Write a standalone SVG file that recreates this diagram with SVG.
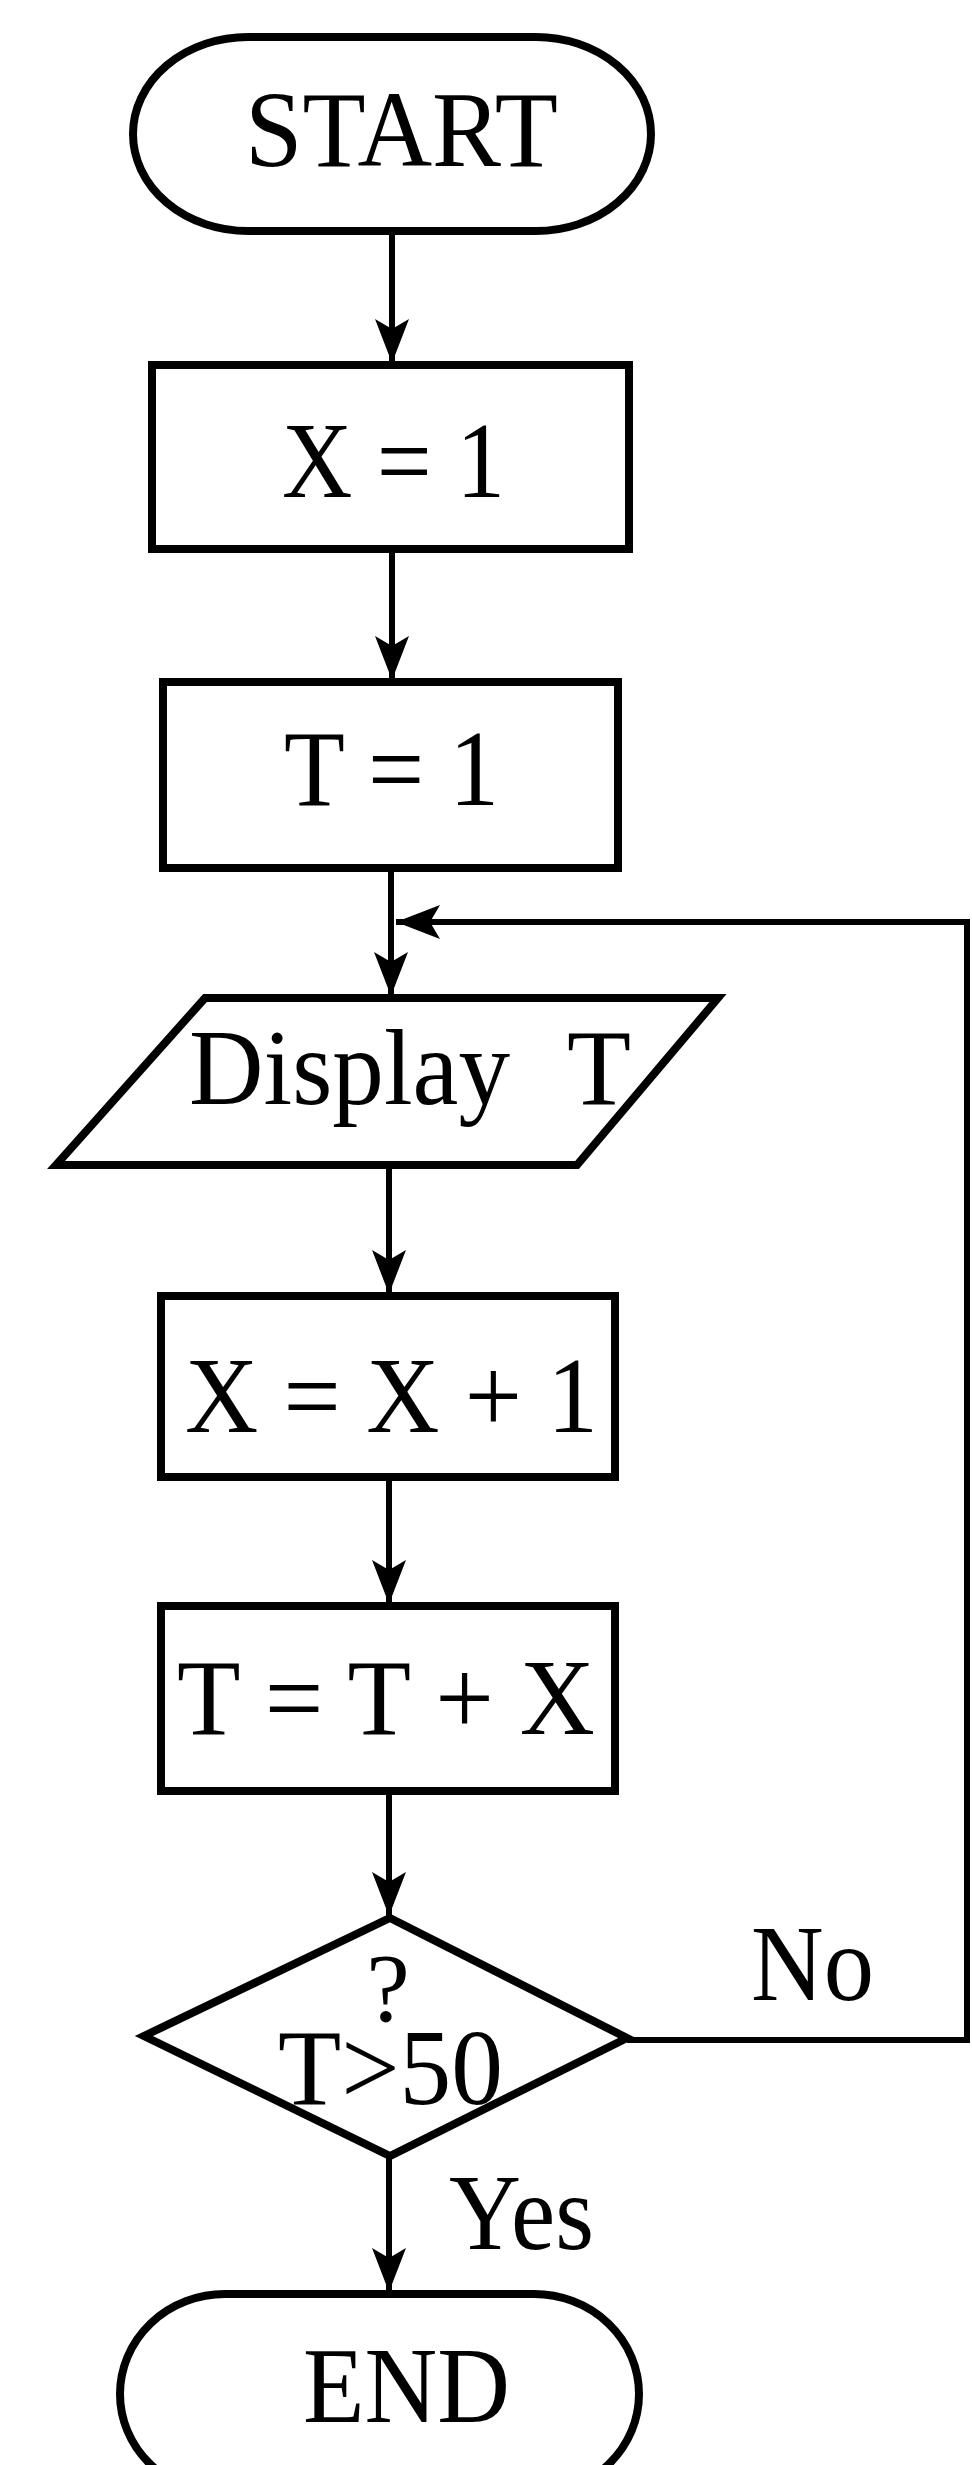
<svg xmlns="http://www.w3.org/2000/svg" width="972" height="2465" viewBox="0 0 972 2465">
<style>
.shape{fill:#fff;stroke:#000;stroke-width:8;stroke-linejoin:miter}
.conn{fill:none;stroke:#000;stroke-width:6}
.t{font-family:"Liberation Serif","Times New Roman",serif;font-size:109px;fill:#000}
</style>
<defs>
<marker id="ah" markerUnits="userSpaceOnUse" markerWidth="50" markerHeight="40" viewBox="0 0 50 40" refX="46" refY="20" orient="auto">
<path d="M46,20 L2,3 L12,20 L2,37 Z" fill="#000"/>
</marker>
</defs>
<rect width="972" height="2465" fill="#fff"/>
<g id="connectors">
<line class="conn" x1="392" y1="231" x2="392" y2="363" marker-end="url(#ah)"/>
<line class="conn" x1="392" y1="549" x2="392" y2="680" marker-end="url(#ah)"/>
<line class="conn" x1="391" y1="868" x2="391" y2="996" marker-end="url(#ah)"/>
<line class="conn" x1="389" y1="1165" x2="389" y2="1294" marker-end="url(#ah)"/>
<line class="conn" x1="389" y1="1477" x2="389" y2="1604" marker-end="url(#ah)"/>
<line class="conn" x1="389" y1="1791" x2="389" y2="1916" marker-end="url(#ah)"/>
<line class="conn" x1="389" y1="2156" x2="389" y2="2292" marker-end="url(#ah)"/>
<polyline class="conn" points="627,2040 967,2040 967,922 396,922" marker-end="url(#ah)"/>
</g>
<g id="start">
<rect class="shape" x="133" y="37" width="518" height="194" rx="115" ry="97"/>
<text class="t" x="245" y="166" textLength="313" lengthAdjust="spacingAndGlyphs">START</text>
</g>
<g id="x1">
<rect class="shape" x="152" y="365" width="477" height="184"/>
<text class="t" x="282" y="497" textLength="223" lengthAdjust="spacingAndGlyphs">X = 1</text>
</g>
<g id="t1">
<rect class="shape" x="163" y="682" width="455" height="186"/>
<text class="t" x="284" y="805" textLength="215" lengthAdjust="spacingAndGlyphs">T = 1</text>
</g>
<g id="display">
<polygon class="shape" points="205,998 718,998 577,1165 56,1165"/>
<text class="t" y="1104"><tspan x="189" textLength="321" lengthAdjust="spacingAndGlyphs">Display</tspan><tspan x="567" textLength="64" lengthAdjust="spacingAndGlyphs">T</tspan></text>
</g>
<g id="xinc">
<rect class="shape" x="161" y="1296" width="454" height="181"/>
<text class="t" x="185" y="1432" textLength="413" lengthAdjust="spacingAndGlyphs">X = X + 1</text>
</g>
<g id="tinc">
<rect class="shape" x="161" y="1606" width="454" height="185"/>
<text class="t" x="177" y="1734" textLength="418" lengthAdjust="spacingAndGlyphs">T = T + X</text>
</g>
<g id="decision">
<polygon class="shape" points="390,1918 627,2038 390,2156 144,2036"/>
<text class="t" x="388" y="2021" text-anchor="middle" style="font-size:98px">?</text>
<text class="t" x="278" y="2104" textLength="225" lengthAdjust="spacingAndGlyphs">T&gt;50</text>
</g>
<g id="labels">
<text class="t" x="751" y="2000" textLength="123" lengthAdjust="spacingAndGlyphs">No</text>
<text class="t" x="449" y="2249" textLength="145" lengthAdjust="spacingAndGlyphs">Yes</text>
</g>
<g id="end">
<rect class="shape" x="120" y="2294" width="519" height="200" rx="105" ry="100"/>
<text class="t" x="303" y="2422" textLength="207" lengthAdjust="spacingAndGlyphs">END</text>
</g>
</svg>
